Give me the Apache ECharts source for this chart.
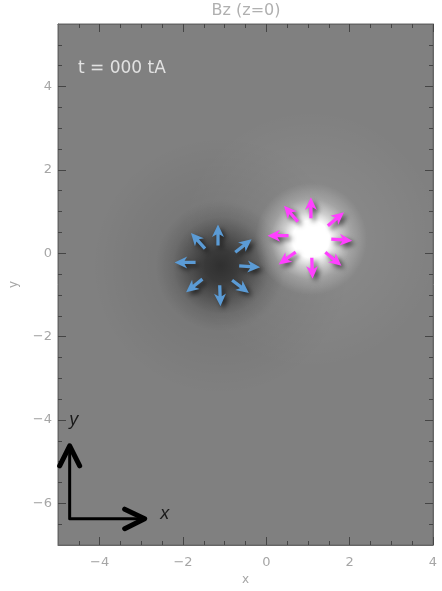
<!DOCTYPE html>
<html>
<head>
<meta charset="utf-8">
<script src="https://cdn.jsdelivr.net/npm/echarts@6/dist/echarts.min.js"></script>
<style>
html,body{margin:0;padding:0;background:#fff;}
#chart{width:442px;height:591px;}
</style>
</head>
<body>
<div id="chart"></div>
<script>
// ---- data ----
const titleText = 'Bz (z=0)';
const timeText = 't = 000 tA';
const xRange = [-5, 4];
const yRange = [-7, 5.5];
const xMajorTicks = [-4, -2, 0, 2, 4];
const yMajorTicks = [-6, -4, -2, 0, 2, 4];
const xMinorTicks = [-4.5, -3.5, -3, -2.5, -1.5, -1, -0.5, 0.5, 1, 1.5, 2.5, 3, 3.5];
const yMinorTicks = [-6.5, -5.5, -5, -4.5, -3.5, -3, -2.5, -1.5, -1, -0.5, 0.5, 1, 1.5, 2.5, 3, 3.5, 4.5, 5];

// poles (positive = bright, negative = dark)
const posPole = [1.07, 0.34];
const negPole = [-1.09, -0.30];

// arrows around positive pole: x, y, direction angle (deg)
const posArrowX = [1.07, 0.59, 1.67, 0.28, 1.81, 0.50, 1.10, 1.61];
const posArrowY = [1.09, 0.95, 0.82, 0.42, 0.32, -0.12, -0.36, -0.14];
const posArrowAng = [90, 131, 40, 180, -4, -144, -88, -40];
// arrows around negative pole
const negArrowX = [-1.16, -1.64, -0.55, -1.95, -0.40, -1.73, -1.11, -0.62];
const negArrowY = [0.44, 0.30, 0.18, -0.22, -0.32, -0.78, -1.02, -0.80];
const negArrowAng = [90, 132, 39, 180, -4, -141, -88, -37];

// coordinate-direction glyph (lower left)
const glyphLine = [[-4.72, -4.62], [-4.72, -6.37], [-2.92, -6.37]];
const glyphHeadY = [[-4.96, -5.10], [-4.72, -4.62], [-4.48, -5.10]];
const glyphHeadX = [[-3.40, -6.14], [-2.92, -6.37], [-3.40, -6.61]];
const glyphLabels = [[-4.62, -4.01, 'y'], [-2.44, -6.26, 'x']];

// ---- chart ----
const fmt = v => String(v).replace('-', '\u2212');
const arrowPath = 'path://M5,0 L10.5,12 L6.5,9.5 L6.5,20 L3.5,20 L3.5,9.5 L-0.5,12 Z';
const lineCol = '#666666';
const tickCol = '#454545';
const labelCol = '#a6a6a6';
const font = 'DejaVu Sans';

function mkX(pos, major, withLabel) {
  return {
    type: 'value', position: pos, min: xRange[0], max: xRange[1],
    name: withLabel ? 'x' : '', nameLocation: 'middle', nameGap: 29,
    nameTextStyle: {color: labelCol, fontSize: 12, fontFamily: font},
    axisLine: {show: major, onZero: false, lineStyle: {color: lineCol, width: 1}},
    axisTick: {show: true, inside: true, length: major ? 8 : 4,
      customValues: major ? xMajorTicks : xMinorTicks, lineStyle: {color: tickCol, width: 1}},
    axisLabel: {show: withLabel, customValues: xMajorTicks, formatter: fmt,
      color: labelCol, fontSize: 13, fontFamily: font, margin: 11},
    splitLine: {show: false}
  };
}
function mkY(pos, major, withLabel) {
  return {
    type: 'value', position: pos, min: yRange[0], max: yRange[1],
    name: withLabel ? 'y' : '', nameLocation: 'middle', nameGap: 38,
    nameTextStyle: {color: labelCol, fontSize: 12, fontFamily: font},
    axisLine: {show: major, onZero: false, lineStyle: {color: lineCol, width: 1}},
    axisTick: {show: true, inside: true, length: major ? 8 : 4,
      customValues: major ? yMajorTicks : yMinorTicks, lineStyle: {color: tickCol, width: 1}},
    axisLabel: {show: withLabel, customValues: yMajorTicks, formatter: fmt,
      color: labelCol, fontSize: 13, fontFamily: font, margin: 6},
    splitLine: {show: false}
  };
}

function radial(stops) {
  return {type: 'radial', x: 0.5, y: 0.5, r: 0.5,
    colorStops: stops.map(s => ({offset: s[0], color: s[1]}))};
}

function arrows(xs, ys, angs, color) {
  return {
    type: 'scatter', xAxisIndex: 0, yAxisIndex: 0, z: 5,
    symbol: arrowPath, symbolSize: [12, 21],
    data: xs.map((x, i) => ({value: [x, ys[i]], symbolRotate: angs[i] - 90})),
    itemStyle: {color: color, opacity: 1, shadowColor: 'rgba(0,0,0,0.6)',
      shadowBlur: 5, shadowOffsetX: 3, shadowOffsetY: 3},
    silent: true, animation: false
  };
}

const glyphStyle = (w) => ({type: 'line', xAxisIndex: 0, yAxisIndex: 0, z: 6,
  symbol: 'none', lineStyle: {color: '#000', width: w, cap: 'round', join: 'round'},
  silent: true, animation: false});

const option = {
  animation: false,
  title: [
    {text: titleText, left: 246, textAlign: 'center', top: 3, padding: 0,
      textStyle: {color: '#b0b0b0', fontSize: 16, fontWeight: 'normal', fontFamily: font}},
    {text: timeText, left: 78, top: 60, padding: 0,
      textStyle: {color: '#e2e2e2', fontSize: 17, fontWeight: 'normal', fontFamily: font}}
  ],
  grid: {left: 58, right: 9, top: 24, bottom: 45, show: true,
    backgroundColor: '#808080', borderColor: lineCol, borderWidth: 1},
  xAxis: [mkX('bottom', true, true), mkX('bottom', false, false), mkX('top', true, false), mkX('top', false, false)],
  yAxis: [mkY('left', true, true), mkY('left', false, false), mkY('right', true, false), mkY('right', false, false)],
  series: [
    // broad faint halos
    {type: 'scatter', xAxisIndex: 0, yAxisIndex: 0, z: 1, silent: true,
      symbolSize: 260, data: [posPole],
      itemStyle: {opacity: 1, color: radial([[0, 'rgba(255,255,255,0.12)'], [0.5, 'rgba(255,255,255,0.05)'], [1, 'rgba(255,255,255,0)']])}},
    {type: 'scatter', xAxisIndex: 0, yAxisIndex: 0, z: 1, silent: true,
      symbolSize: 260, data: [negPole],
      itemStyle: {opacity: 1, color: radial([[0, 'rgba(0,0,0,0.14)'], [0.5, 'rgba(0,0,0,0.06)'], [1, 'rgba(0,0,0,0)']])}},
    // dark pole
    {type: 'scatter', xAxisIndex: 0, yAxisIndex: 0, z: 2, silent: true,
      symbolSize: 130, data: [negPole],
      itemStyle: {opacity: 1, color: radial([[0, 'rgba(0,0,0,0.58)'], [0.25, 'rgba(0,0,0,0.5)'], [0.5, 'rgba(0,0,0,0.29)'], [0.75, 'rgba(0,0,0,0.09)'], [1, 'rgba(0,0,0,0)']])}},
    // bright pole
    {type: 'scatter', xAxisIndex: 0, yAxisIndex: 0, z: 2, silent: true,
      symbolSize: 112, data: [posPole],
      itemStyle: {opacity: 1, color: radial([[0, 'rgba(255,255,255,1)'], [0.33, 'rgba(255,255,255,1)'], [0.5, 'rgba(255,255,255,0.6)'], [0.72, 'rgba(255,255,255,0.22)'], [1, 'rgba(255,255,255,0)']])}},
    arrows(negArrowX, negArrowY, negArrowAng, '#5b9bd5'),
    arrows(posArrowX, posArrowY, posArrowAng, '#ff40ff'),
    Object.assign(glyphStyle(3), {data: glyphLine}),
    Object.assign(glyphStyle(5), {data: glyphHeadY}),
    Object.assign(glyphStyle(5), {data: glyphHeadX}),
    {type: 'scatter', xAxisIndex: 0, yAxisIndex: 0, z: 7, silent: true,
      symbolSize: 0, data: glyphLabels.map(d => [d[0], d[1], d[2]]),
      label: {show: true, position: 'inside', formatter: p => p.data[2],
        color: '#000', fontSize: 18, fontStyle: 'italic', fontFamily: 'Liberation Sans'}}
  ]
};

const chart = echarts.init(document.getElementById('chart'), null, {renderer: 'canvas'});
chart.setOption(option);
</script>
</body>
</html>
